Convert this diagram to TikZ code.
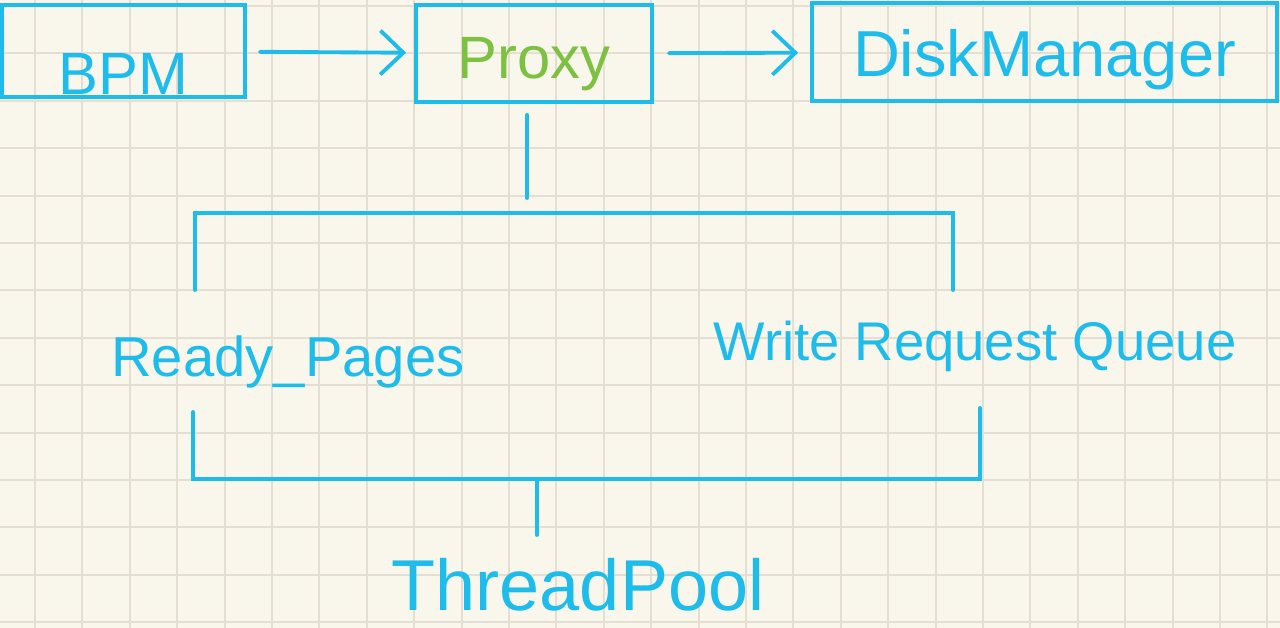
\documentclass[tikz,border=0pt]{standalone}
\usepackage{fontspec}
\setmainfont{Liberation Sans}
\usetikzlibrary{arrows.meta}
\definecolor{paper}{HTML}{F9F6EB}
\definecolor{gridline}{HTML}{E4DFD2}
\definecolor{pen}{HTML}{1EBCEB}
\definecolor{leaf}{HTML}{7CC142}

\begin{document}
\begin{tikzpicture}[
    x=0.02cm, y=-0.02cm,
    box/.style={draw=pen, line width=2.2pt, text=pen},
    hand/.style={text=pen, inner sep=0pt, font=\fontsize{#1}{#1}\selectfont},
    wire/.style={draw=pen, line width=2.2pt, line cap=round},
    arr/.style={wire, -{Straight Barb[length=0.46cm, width=0.88cm]}},
    grid line/.style={draw=gridline, line width=1.2pt},
]

% ── Paper ──
\fill[paper] (0,0) rectangle (1280,628);
\useasboundingbox (0,0) rectangle (1280,628);
\foreach \k in {0,...,26} \draw[grid line] ({35+47.4*\k},0) -- ({35+47.4*\k},628);
\foreach \k in {0,...,13} \draw[grid line] (0,{6+47.4*\k}) -- (1280,{6+47.4*\k});

% ── Top row ──
\node[box, hand=34, minimum width=4.86cm, text height=1.80cm, text depth=0.04cm] (bpm) at (123.5,51) {BPM};
\node[box, hand=34, text=leaf, minimum width=4.72cm, text height=1.48cm, text depth=0.46cm] (proxy) at (534,53.5) {Proxy};
\node[box, hand=37, minimum width=9.3cm, text height=1.48cm, text depth=0.48cm] (disk) at (1044.5,52) {DiskManager};

% ── Arrows: top row ──
\draw[arr, shorten <=0.26cm, shorten >=0.16cm] (bpm) -- (proxy);
\draw[arr, shorten <=0.3cm, shorten >=0.24cm] (proxy) -- (disk);

% ── Split below Proxy ──
\coordinate (fork) at (527,213);
\coordinate (readyin) at (195,290);
\coordinate (writein) at (953,290);
\draw[wire, shorten <=0.22cm, shorten >=0.3cm] (proxy.south -| fork) -- (fork);
\draw[wire] (readyin) |- (fork) -| (writein);

% ── Queues ──
\node[hand=32, anchor=base] (ready) at (288,376) {Ready\_Pages};
\node[hand=31, anchor=base] (writeq) at (975,360) {Write Request Queue};

% ── Merge into ThreadPool ──
\coordinate (readyout) at (193,412);
\coordinate (writeout) at (980,408);
\coordinate (merge) at (537,479);
\coordinate (poolin) at (537,535);
\draw[wire] (readyout) |- (merge) -| (writeout);
\draw[wire] (merge) -- (poolin);
\node[hand=41, anchor=base] (pool) at (578,610) {ThreadPool};

\end{tikzpicture}
\end{document}
